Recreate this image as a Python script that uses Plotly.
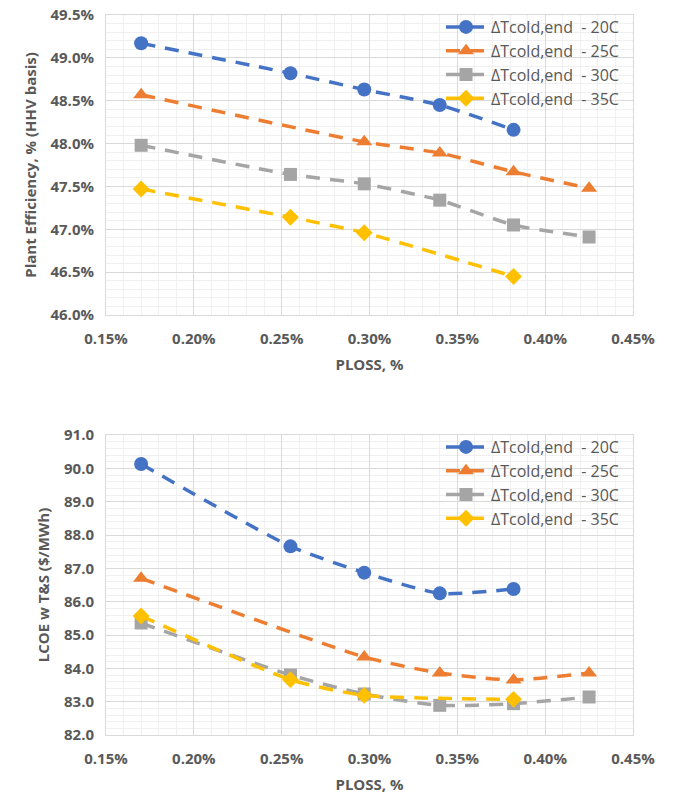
import plotly.graph_objects as go

ploss = [0.0017, 0.00255, 0.00297, 0.0034, 0.00382, 0.00425]
series_names = ["ΔTcold,end  - 20C", "ΔTcold,end  - 25C", "ΔTcold,end  - 30C", "ΔTcold,end  - 35C"]

eff_20 = [0.4917, 0.4882, 0.4863, 0.4845, 0.4816, None]
eff_25 = [0.4857, None, 0.4802, 0.4789, 0.4767, 0.4748]
eff_30 = [0.4798, 0.4764, 0.4753, 0.4734, 0.4705, 0.4691]
eff_35 = [0.4747, 0.4714, 0.4696, None, 0.4645, None]

lcoe_20 = [90.13, 87.66, 86.87, 86.25, 86.38, None]
lcoe_25 = [86.70, None, 84.34, 83.86, 83.65, 83.86]
lcoe_30 = [85.36, 83.80, 83.23, 82.89, 82.94, 83.14]
lcoe_35 = [85.57, 83.66, 83.19, None, 83.07, None]

colors = ["#4472C4", "#ED7D31", "#A5A5A5", "#FFC000"]
symbols = ["circle", "triangle-up", "square", "diamond"]
msizes = [14, 14, 13, 13]

FONT = "Open Sans"
TXT = "#595959"
GRID = "#d9d9d9"
MINOR = "#f0f0f0"

fig = go.Figure()

for i, ys in enumerate([eff_20, eff_25, eff_30, eff_35]):
    fig.add_trace(go.Scatter(
        x=ploss, y=ys, name=series_names[i], mode="lines+markers",
        line=dict(color=colors[i], width=3.5, dash="14px,10px", shape="spline", smoothing=0.6),
        marker=dict(symbol=symbols[i], size=msizes[i], color=colors[i]),
        connectgaps=True, xaxis="x", yaxis="y", legend="legend",
    ))

for i, ys in enumerate([lcoe_20, lcoe_25, lcoe_30, lcoe_35]):
    fig.add_trace(go.Scatter(
        x=ploss, y=ys, name=series_names[i], mode="lines+markers",
        line=dict(color=colors[i], width=3.5, dash="14px,10px", shape="spline", smoothing=0.6),
        marker=dict(symbol=symbols[i], size=msizes[i], color=colors[i]),
        connectgaps=True, xaxis="x2", yaxis="y2", legend="legend2",
    ))

tickfont = dict(family=FONT, size=15, color=TXT, weight="bold")
titlefont = dict(family=FONT, size=15, color=TXT, weight="bold")

def xaxis(anchor, domain):
    return dict(
        domain=domain, anchor=anchor, range=[0.0015, 0.0045], dtick=0.0005,
        tickformat=".2%", tickfont=tickfont, showgrid=True, gridcolor=GRID, gridwidth=1,
        minor=dict(dtick=0.0001, showgrid=True, gridcolor=MINOR, gridwidth=1),
        showline=True, linecolor=GRID, linewidth=1, mirror=True, zeroline=False,
        ticks="", ticklabelstandoff=10, automargin=False,
        title=dict(text="PLOSS, %", font=titlefont, standoff=12),
    )

def yaxis(anchor, domain, rng, dtick, minor, fmt, title):
    return dict(
        domain=domain, anchor=anchor, range=rng, dtick=dtick, tickformat=fmt,
        tickfont=tickfont, showgrid=True, gridcolor=GRID, gridwidth=1,
        minor=dict(dtick=minor, showgrid=True, gridcolor=MINOR, gridwidth=1),
        showline=True, linecolor=GRID, linewidth=1, mirror=True, zeroline=False,
        ticks="", ticklabelstandoff=8, automargin=False,
        title=dict(text=title, font=titlefont, standoff=10),
    )

xd = [106 / 673, 633 / 673]
fig.update_layout(
    width=673, height=797, autosize=False,
    margin=dict(l=0, r=0, t=0, b=0),
    paper_bgcolor="white", plot_bgcolor="white",
    font=dict(family=FONT, color=TXT),
    xaxis=xaxis("y", xd),
    yaxis=yaxis("x", [1 - 315 / 797, 1 - 15 / 797], [0.46, 0.495], 0.005, 0.001, ".1%",
                "Plant Efficiency, % (HHV basis)"),
    xaxis2=xaxis("y2", xd),
    yaxis2=yaxis("x2", [1 - 735 / 797, 1 - 435 / 797], [82, 91], 1, 0.2, ".1f",
                 "LCOE w T&S ($/MWh)"),
    legend=dict(x=624 / 673, y=1 - 10 / 797, xanchor="right", yanchor="top",
                bgcolor="rgba(0,0,0,0)", font=dict(family=FONT, size=16, color=TXT),
                itemwidth=40, tracegroupgap=0),
    legend2=dict(x=624 / 673, y=1 - 430 / 797, xanchor="right", yanchor="top",
                 bgcolor="rgba(0,0,0,0)", font=dict(family=FONT, size=16, color=TXT),
                 itemwidth=40, tracegroupgap=0),
    showlegend=True,
)

fig.write_html("out.html")
